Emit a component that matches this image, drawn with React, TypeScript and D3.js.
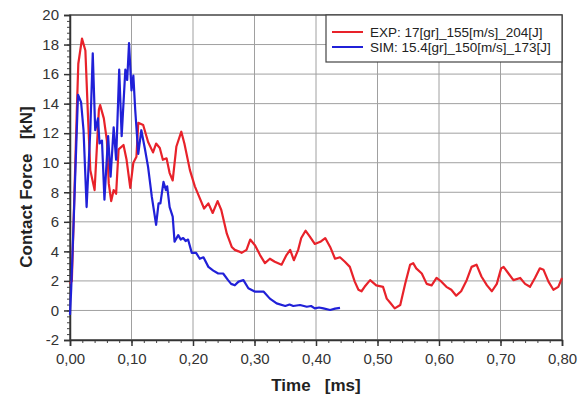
import React, {useRef, useEffect} from 'react';
import * as d3 from 'd3';

// EXP curve, time [ms] and contact force [kN]
const expTime = [0, 0.003, 0.006, 0.011, 0.0135, 0.0195, 0.025, 0.029, 0.033, 0.04, 0.047, 0.049, 0.055, 0.06,
    0.063, 0.067, 0.071, 0.075, 0.079, 0.087, 0.092, 0.098, 0.103, 0.108, 0.111, 0.119, 0.127, 0.135, 0.14, 0.146,
    0.151, 0.157, 0.162, 0.167, 0.173, 0.181, 0.186, 0.195, 0.203, 0.211, 0.218, 0.225, 0.232, 0.24, 0.246, 0.255,
    0.263, 0.268, 0.274, 0.279, 0.287, 0.293, 0.301, 0.309, 0.317, 0.325, 0.333, 0.344, 0.352, 0.358, 0.364, 0.371,
    0.376, 0.383, 0.39, 0.398, 0.407, 0.415, 0.423, 0.431, 0.439, 0.447, 0.455, 0.463, 0.469, 0.474, 0.479, 0.488,
    0.498, 0.509, 0.515, 0.521, 0.528, 0.537, 0.545, 0.553, 0.558, 0.563, 0.572, 0.58, 0.588, 0.596, 0.604, 0.612,
    0.62, 0.628, 0.636, 0.645, 0.653, 0.661, 0.669, 0.678, 0.686, 0.694, 0.701, 0.705, 0.713, 0.721, 0.732, 0.74,
    0.748, 0.756, 0.764, 0.77, 0.778, 0.786, 0.794, 0.8];
const expForce = [1.8, 2.0, 6.2, 13.4, 16.7, 18.4, 17.6, 13.4, 9.5, 8.15, 13.6, 13.9, 13.0, 11.5,
    8.6, 7.4, 8.15, 7.9, 10.9, 11.2, 10.2, 8.3, 10.0, 10.4, 12.7, 12.55, 11.4, 10.7, 11.3, 11.0,
    10.2, 10.3, 9.3, 8.8, 11.1, 12.1, 11.3, 9.5, 8.4, 7.6, 6.9, 7.25, 6.6, 7.4, 6.8, 5.2,
    4.3, 4.1, 4.0, 3.9, 4.1, 4.8, 4.4, 3.75, 3.2, 3.5, 3.3, 3.1, 3.75, 4.1, 3.4, 4.1,
    4.9, 5.4, 5.0, 4.5, 4.65, 4.9, 4.3, 3.5, 3.6, 3.3, 2.95, 1.95, 1.4, 1.3, 1.6, 2.05,
    1.7, 1.6, 0.8, 0.5, 0.14, 0.37, 1.8, 3.1, 3.2, 2.85, 2.5, 1.8, 1.7, 2.2, 1.95, 1.6,
    1.4, 1.0, 1.3, 2.05, 2.95, 3.1, 2.3, 1.7, 1.3, 1.8, 2.85, 2.95, 2.5, 2.05, 2.2, 1.8,
    1.6, 2.2, 2.85, 2.75, 1.95, 1.4, 1.6, 2.2];

// SIM curve
const simTime = [0, 0.002, 0.006, 0.013, 0.018, 0.022, 0.027, 0.033, 0.037, 0.041, 0.0455, 0.048, 0.052, 0.056,
    0.062, 0.066, 0.071, 0.075, 0.08, 0.084, 0.09, 0.093, 0.096, 0.1, 0.103, 0.106, 0.111, 0.116, 0.122, 0.127,
    0.133, 0.14, 0.144, 0.147, 0.152, 0.156, 0.158, 0.162, 0.167, 0.17, 0.176, 0.18, 0.184, 0.188, 0.192, 0.198,
    0.205, 0.211, 0.217, 0.225, 0.233, 0.241, 0.249, 0.257, 0.262, 0.268, 0.274, 0.282, 0.29, 0.301, 0.315, 0.325,
    0.336, 0.35, 0.357, 0.363, 0.374, 0.385, 0.392, 0.398, 0.405, 0.412, 0.423, 0.431, 0.439];
const simForce = [-0.3, 1.5, 6.1, 14.6, 14.1, 12.2, 7.0, 12.2, 17.4, 12.2, 13.0, 11.3, 11.5, 7.5,
    11.8, 9.05, 12.4, 10.2, 16.3, 11.8, 16.3, 15.6, 18.1, 14.9, 15.9, 13.6, 10.6, 12.2, 10.9, 9.7,
    7.7, 5.8, 7.25, 7.25, 8.7, 8.15, 8.4, 7.0, 6.35, 4.65, 5.1, 4.8, 4.9, 4.7, 4.8, 3.9,
    3.9, 3.5, 3.6, 2.95, 2.7, 2.5, 2.5, 2.05, 1.8, 1.7, 1.95, 2.05, 1.5, 1.27, 1.27, 0.8,
    0.48, 0.3, 0.4, 0.3, 0.37, 0.25, 0.3, 0.14, 0.2, 0.14, 0.03, 0.12, 0.18];

const xTicks = [0, 0.1, 0.2, 0.3, 0.4, 0.5, 0.6, 0.7, 0.8];
const yTicks = [-2, 0, 2, 4, 6, 8, 10, 12, 14, 16, 18, 20];
const legendLabels = ['EXP: 17[gr]_155[m/s]_204[J]', 'SIM: 15.4[gr]_150[m/s]_173[J]'];
const seriesColors = ['#e8222a', '#2020d8'];

const W = 583, H = 398;

const App: React.FC = () => {
    const svgRef = useRef<SVGSVGElement | null>(null);

    useEffect(() => {
        const svg = d3.select(svgRef.current);
        svg.selectAll('*').remove();

        const x = d3.scaleLinear().domain([0, 0.8]).range([70, 562]);
        const y = d3.scaleLinear().domain([-2, 20]).range([340, 15]);
        const font = 'Liberation Sans, Arial, sans-serif';

        svg.append('rect').attr('width', W).attr('height', H).attr('fill', '#fff');

        // grid
        const grid = svg.append('g').attr('stroke', '#a0a0a0').attr('stroke-width', 1);
        grid.selectAll('.gx').data(xTicks).enter().append('line')
            .attr('x1', d => x(d)).attr('x2', d => x(d)).attr('y1', y(-2)).attr('y2', y(20));
        grid.selectAll('.gy').data(yTicks).enter().append('line')
            .attr('y1', d => y(d)).attr('y2', d => y(d)).attr('x1', x(0)).attr('x2', x(0.8));

        // frame
        svg.append('rect')
            .attr('x', x(0)).attr('y', y(20))
            .attr('width', x(0.8) - x(0)).attr('height', y(-2) - y(20))
            .attr('fill', 'none').attr('stroke', '#555').attr('stroke-width', 1.5);

        // minor ticks
        const yMinor = d3.range(-2, 20.001, 0.4);
        svg.append('g').attr('transform', `translate(${x(0)},0)`)
            .call(d3.axisLeft(y).tickValues(yMinor).tickSize(3).tickFormat(() => ''))
            .call(g => g.select('.domain').remove())
            .selectAll('line').attr('stroke', '#444');
        const xMinor = d3.range(0, 0.8001, 0.02);
        svg.append('g').attr('transform', `translate(0,${y(-2)})`)
            .call(d3.axisBottom(x).tickValues(xMinor).tickSize(3).tickFormat(() => ''))
            .call(g => g.select('.domain').remove())
            .selectAll('line').attr('stroke', '#444');

        // major axes
        const yAxis = svg.append('g').attr('transform', `translate(${x(0)},0)`)
            .call(d3.axisLeft(y).tickValues(yTicks).tickSize(6).tickPadding(5).tickFormat(d => String(d)));
        yAxis.select('.domain').attr('stroke', '#333').attr('stroke-width', 1.5);
        yAxis.selectAll('line').attr('stroke', '#333').attr('stroke-width', 1.5);
        yAxis.selectAll('text').attr('font-family', font).attr('font-size', 15).attr('fill', '#333');

        const xAxis = svg.append('g').attr('transform', `translate(0,${y(-2)})`)
            .call(d3.axisBottom(x).tickValues(xTicks).tickSize(6).tickPadding(7)
                .tickFormat(d => d3.format('.2f')(d as number).replace('.', ',')));
        xAxis.select('.domain').attr('stroke', '#333').attr('stroke-width', 1.5);
        xAxis.selectAll('line').attr('stroke', '#333').attr('stroke-width', 1.5);
        xAxis.selectAll('text').attr('font-family', font).attr('font-size', 15).attr('fill', '#333');

        // curves
        const line = d3.line<[number, number]>().x(d => x(d[0])).y(d => y(d[1]));
        const series: [number, number][][] = [
            expTime.map((t, i) => [t, expForce[i]]),
            simTime.map((t, i) => [t, simForce[i]]),
        ];
        series.forEach((pts, i) => {
            svg.append('path')
                .datum(pts)
                .attr('d', line)
                .attr('fill', 'none')
                .attr('stroke', seriesColors[i])
                .attr('stroke-width', 2.2)
                .attr('stroke-linejoin', 'round');
        });

        // axis titles
        svg.append('text')
            .attr('x', (x(0) + x(0.8)) / 2).attr('y', 391)
            .attr('text-anchor', 'middle')
            .attr('font-family', font).attr('font-size', 17).attr('font-weight', 'bold')
            .attr('fill', '#222')
            .style('white-space', 'pre')
            .text('Time   [ms]');
        svg.append('text')
            .attr('transform', `translate(32,${187}) rotate(-90)`)
            .attr('text-anchor', 'middle')
            .attr('font-family', font).attr('font-size', 17).attr('font-weight', 'bold')
            .attr('fill', '#222')
            .style('white-space', 'pre')
            .text('Contact Force   [kN]');

        // legend
        const lx = x(0.8) - 236, ly = y(20);
        const legend = svg.append('g').attr('transform', `translate(${lx},${ly})`);
        legend.append('rect').attr('width', 236).attr('height', 47)
            .attr('fill', '#fff').attr('stroke', '#444').attr('stroke-width', 1.2);
        legendLabels.forEach((label, i) => {
            const cy = 17 + i * 15;
            legend.append('line')
                .attr('x1', 6).attr('x2', 37).attr('y1', cy).attr('y2', cy)
                .attr('stroke', seriesColors[i]).attr('stroke-width', 2);
            legend.append('text')
                .attr('x', 44).attr('y', cy + 4.5)
                .attr('font-family', font).attr('font-size', 13.5).attr('fill', '#222')
                .text(label);
        });
    }, []);

    return (
        <svg ref={svgRef} width={W} height={H}
             style={{position: 'absolute', left: 0, top: 0, display: 'block'}} />
    );
};

export default App;
